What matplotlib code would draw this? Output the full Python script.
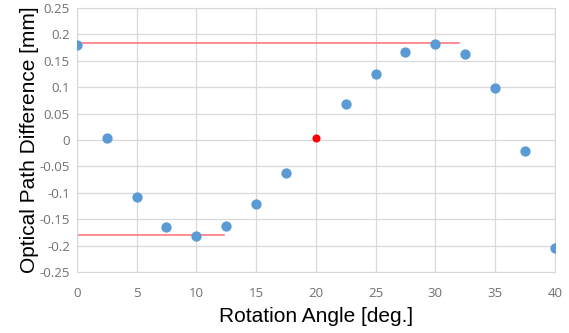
import matplotlib.pyplot as plt
from matplotlib.ticker import FuncFormatter, MultipleLocator

# rotation angle [deg.] and optical path difference [mm]
angles = [0, 2.5, 5, 7.5, 10, 12.5, 15, 17.5, 22.5, 25, 27.5, 30, 32.5, 35, 37.5, 40]
opd = [0.180, 0.004, -0.108, -0.165, -0.182, -0.163, -0.121, -0.062,
       0.068, 0.125, 0.167, 0.182, 0.163, 0.099, -0.020, -0.204]

# highlighted point
red_angle = [20]
red_opd = [0.004]

# reference lines: (level, x start, x end)
upper_level = 0.183
upper_span = [0, 32]
lower_level = -0.180
lower_span = [0, 12.3]

fig = plt.figure(figsize=(5.69, 3.33), dpi=100)
ax = fig.add_axes([0.135, 0.183, 0.84, 0.793])

ax.plot(upper_span, [upper_level, upper_level], color='#ff7c80', lw=1.2, zorder=2)
ax.plot(lower_span, [lower_level, lower_level], color='#ff7c80', lw=1.2, zorder=2)
ax.scatter(angles, opd, s=55, color='#5b9bd5', zorder=3, linewidths=0)
ax.scatter(red_angle, red_opd, s=34, color='#ff0000', zorder=3, linewidths=0)

ax.set_xlim(0, 40)
ax.set_ylim(-0.25, 0.25)
ax.xaxis.set_major_locator(MultipleLocator(5))
ax.yaxis.set_major_locator(MultipleLocator(0.05))
ax.yaxis.set_major_formatter(FuncFormatter(lambda v, p: '%g' % round(v, 2)))

ax.grid(True, color='#d9d9d9', lw=0.9)
ax.set_axisbelow(True)
for s in ax.spines.values():
    s.set_color('#d9d9d9')
ax.tick_params(length=0, colors='#707070', labelsize=9.5)
ax.tick_params(axis='x', pad=11)
ax.tick_params(axis='y', pad=5)
for lab in ax.get_xticklabels() + ax.get_yticklabels():
    lab.set_fontfamily('Open Sans')

ax.set_xlabel('Rotation Angle [deg.]', fontsize=15, fontfamily='Liberation Sans', labelpad=5)
ax.set_ylabel('Optical Path Difference [mm]', fontsize=15, fontfamily='Liberation Sans', labelpad=0)

fig.savefig('out.png', dpi=100)
